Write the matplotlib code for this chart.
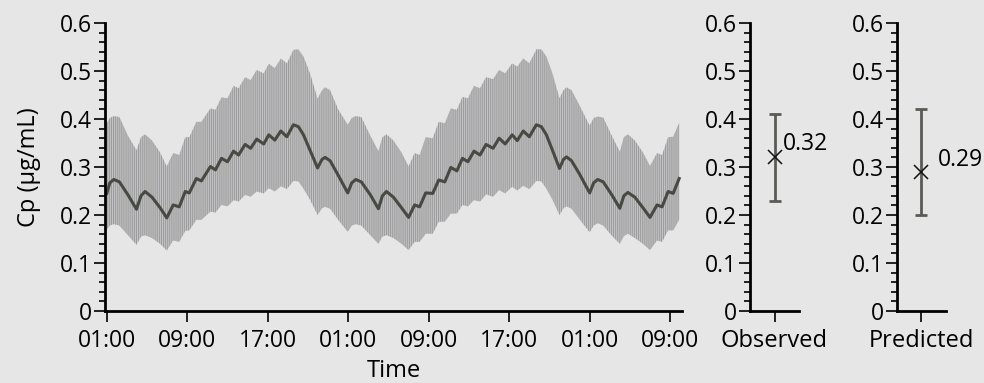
import matplotlib
matplotlib.use("Agg")
import matplotlib.pyplot as plt
from matplotlib.ticker import MultipleLocator, FuncFormatter

# ---------------- data ----------------
hours = [0, 0.3, 0.7, 1.25, 2.1, 2.95, 3.4, 3.8, 4.5, 5.3, 5.96,
         6.6, 7.2, 7.8, 8.2, 8.9, 9.4, 10.3, 10.8, 11.4, 12.0, 12.6, 13.1, 13.75, 14.3,
         14.9, 15.6, 16.1, 16.7, 17.3, 17.9, 18.55,
         19.05, 19.55, 20.2, 20.95, 21.4, 21.7, 22.2, 23.0, 23.95, 24.35, 24.75, 25.3,
         26.2, 27.0, 27.4, 27.8, 28.5, 29.3, 30.0,
         30.6, 31.1, 31.7, 32.4, 33.0, 33.6, 34.2, 34.8, 35.35, 35.9, 36.5, 37.1, 37.7,
         38.4, 39.0, 39.6, 40.3, 40.8, 41.4, 42.0, 42.7,
         43.2, 43.7, 44.3, 45.0, 45.4, 45.7, 46.2, 47.0, 48.0, 48.4, 48.8, 49.35,
         50.2, 51.0, 51.4, 51.8, 52.5, 53.3, 54.0,
         54.7, 55.2, 55.8, 56.3, 56.9]
cp_mean = [0.245, 0.267, 0.274, 0.269, 0.242, 0.212, 0.240, 0.249, 0.237, 0.215, 0.194,
           0.221, 0.217, 0.249, 0.246, 0.276, 0.271, 0.301, 0.294, 0.318, 0.311, 0.333,
           0.325, 0.347, 0.339, 0.358, 0.348, 0.367, 0.356, 0.375, 0.363, 0.388,
           0.384, 0.367, 0.335, 0.298, 0.316, 0.320, 0.313, 0.283, 0.246, 0.267, 0.274,
           0.269, 0.242, 0.213, 0.240, 0.249, 0.237, 0.215, 0.195,
           0.221, 0.217, 0.246, 0.245, 0.273, 0.269, 0.299, 0.292, 0.318, 0.311, 0.333,
           0.325, 0.347, 0.339, 0.360, 0.348, 0.367, 0.355, 0.375, 0.363, 0.388,
           0.384, 0.367, 0.335, 0.297, 0.316, 0.321, 0.313, 0.285, 0.246, 0.267, 0.274,
           0.269, 0.242, 0.214, 0.240, 0.247, 0.237, 0.215, 0.195,
           0.221, 0.217, 0.249, 0.245, 0.276]
cp_upper = [0.391, 0.402, 0.406, 0.404, 0.365, 0.335, 0.362, 0.368, 0.355, 0.330, 0.301,
            0.329, 0.325, 0.362, 0.362, 0.394, 0.394, 0.422, 0.419, 0.445, 0.443, 0.469,
            0.464, 0.487, 0.481, 0.502, 0.495, 0.515, 0.506, 0.526, 0.516, 0.544,
            0.545, 0.530, 0.495, 0.442, 0.460, 0.466, 0.460, 0.420, 0.388, 0.402, 0.406,
            0.404, 0.365, 0.333, 0.362, 0.368, 0.355, 0.330, 0.301,
            0.329, 0.325, 0.362, 0.360, 0.394, 0.391, 0.422, 0.419, 0.446, 0.443, 0.469,
            0.464, 0.487, 0.483, 0.502, 0.495, 0.516, 0.509, 0.526, 0.516, 0.545,
            0.545, 0.530, 0.495, 0.443, 0.460, 0.466, 0.460, 0.428, 0.386, 0.402, 0.405,
            0.403, 0.365, 0.332, 0.362, 0.368, 0.355, 0.330, 0.302,
            0.329, 0.325, 0.362, 0.363, 0.392]
cp_lower = [0.170, 0.178, 0.181, 0.178, 0.158, 0.138, 0.155, 0.158, 0.152, 0.140, 0.126,
            0.147, 0.144, 0.167, 0.168, 0.190, 0.190, 0.207, 0.205, 0.221, 0.218, 0.231,
            0.228, 0.242, 0.238, 0.249, 0.245, 0.256, 0.249, 0.260, 0.254, 0.271,
            0.270, 0.255, 0.232, 0.200, 0.214, 0.217, 0.213, 0.190, 0.165, 0.178, 0.181,
            0.178, 0.158, 0.140, 0.155, 0.158, 0.152, 0.140, 0.127,
            0.144, 0.144, 0.161, 0.161, 0.186, 0.186, 0.203, 0.203, 0.221, 0.218, 0.231,
            0.228, 0.243, 0.238, 0.252, 0.245, 0.259, 0.251, 0.261, 0.254, 0.271,
            0.270, 0.255, 0.232, 0.200, 0.214, 0.218, 0.213, 0.191, 0.164, 0.178, 0.183,
            0.178, 0.157, 0.140, 0.156, 0.161, 0.152, 0.140, 0.127,
            0.147, 0.144, 0.168, 0.168, 0.190]

time_ticks = [0, 8, 16, 24, 32, 40, 48, 56]
time_labels = ['01:00', '09:00', '17:00', '01:00', '09:00', '17:00', '01:00', '09:00']

groups = ['Observed', 'Predicted']
group_mean = [0.32, 0.29]
group_low = [0.23, 0.20]
group_high = [0.41, 0.42]

# ---------------- style ----------------
BG = '#e6e6e6'
NUM_FS = 16.5
TXT_FS = 17
plt.rcParams['font.family'] = ['Open Sans', 'DejaVu Sans']
plt.rcParams['font.size'] = NUM_FS
plt.rcParams['hatch.linewidth'] = 0.75
plt.rcParams['axes.linewidth'] = 2.0

fig = plt.figure(figsize=(9.84, 3.83), dpi=100, facecolor=BG)

BOTTOM = 72 / 383
HEIGHT = 288 / 383


def style_axis(ax):
    ax.set_facecolor(BG)
    for s in ('top', 'right'):
        ax.spines[s].set_visible(False)
    ax.set_ylim(0, 0.6)
    ax.yaxis.set_major_locator(MultipleLocator(0.1))
    ax.yaxis.set_minor_locator(MultipleLocator(0.02))
    ax.yaxis.set_major_formatter(FuncFormatter(lambda v, p: '0' if abs(v) < 1e-9 else f'{v:.1f}'))
    ax.tick_params(axis='both', which='major', direction='out', length=8, width=1.3,
                   color='#111111', labelsize=NUM_FS)
    ax.tick_params(axis='y', which='major', pad=1.5)
    ax.tick_params(axis='y', which='minor', direction='out', length=4, width=1.3, color='#111111')
    ax.tick_params(axis='x', which='major', pad=5)


# main time-course axis
ax = fig.add_axes([105.3 / 984, BOTTOM, 576.4 / 984, HEIGHT])
style_axis(ax)
ax.fill_between(hours, cp_lower, cp_upper, facecolor='#c3c3c5', edgecolor='#9c9c9c',
                hatch='|' * 8, linewidth=0)
ax.plot(hours, cp_mean, color='#474943', lw=2.2, solid_joinstyle='round')
ax.set_xlim(-0.15, 57.15)
ax.set_xticks(time_ticks)
ax.set_xticklabels(time_labels)
ax.set_xlabel('Time', fontsize=TXT_FS, labelpad=4)
ax.set_ylabel('Cp (µg/mL)', fontsize=TXT_FS, labelpad=14)

# small summary panels
panel_left = [750 / 984, 896.7 / 984]
label_dx = [6.0, 12.0]
label_dy = [9.5, 8.5]
for i, name in enumerate(groups):
    axs = fig.add_axes([panel_left[i], BOTTOM, 49 / 984, HEIGHT])
    style_axis(axs)
    axs.set_xlim(-1, 1)
    m = group_mean[i]
    axs.errorbar([0], [m], yerr=[[m - group_low[i]], [group_high[i] - m]], fmt='none',
                 ecolor='#5a5b56', elinewidth=2.0, capsize=4, capthick=2.0)
    axs.plot([0], [m], marker='x', color='#111111', markersize=10, mew=1.1, ls='none')
    axs.annotate(f'{m:.2f}', xy=(0, m), xytext=(label_dx[i], label_dy[i]),
                 textcoords='offset points', ha='left', va='center', fontsize=NUM_FS)
    axs.set_xticks([0])
    axs.set_xticklabels([name], fontsize=TXT_FS)

fig.savefig('out.png', dpi=100, facecolor=BG)
